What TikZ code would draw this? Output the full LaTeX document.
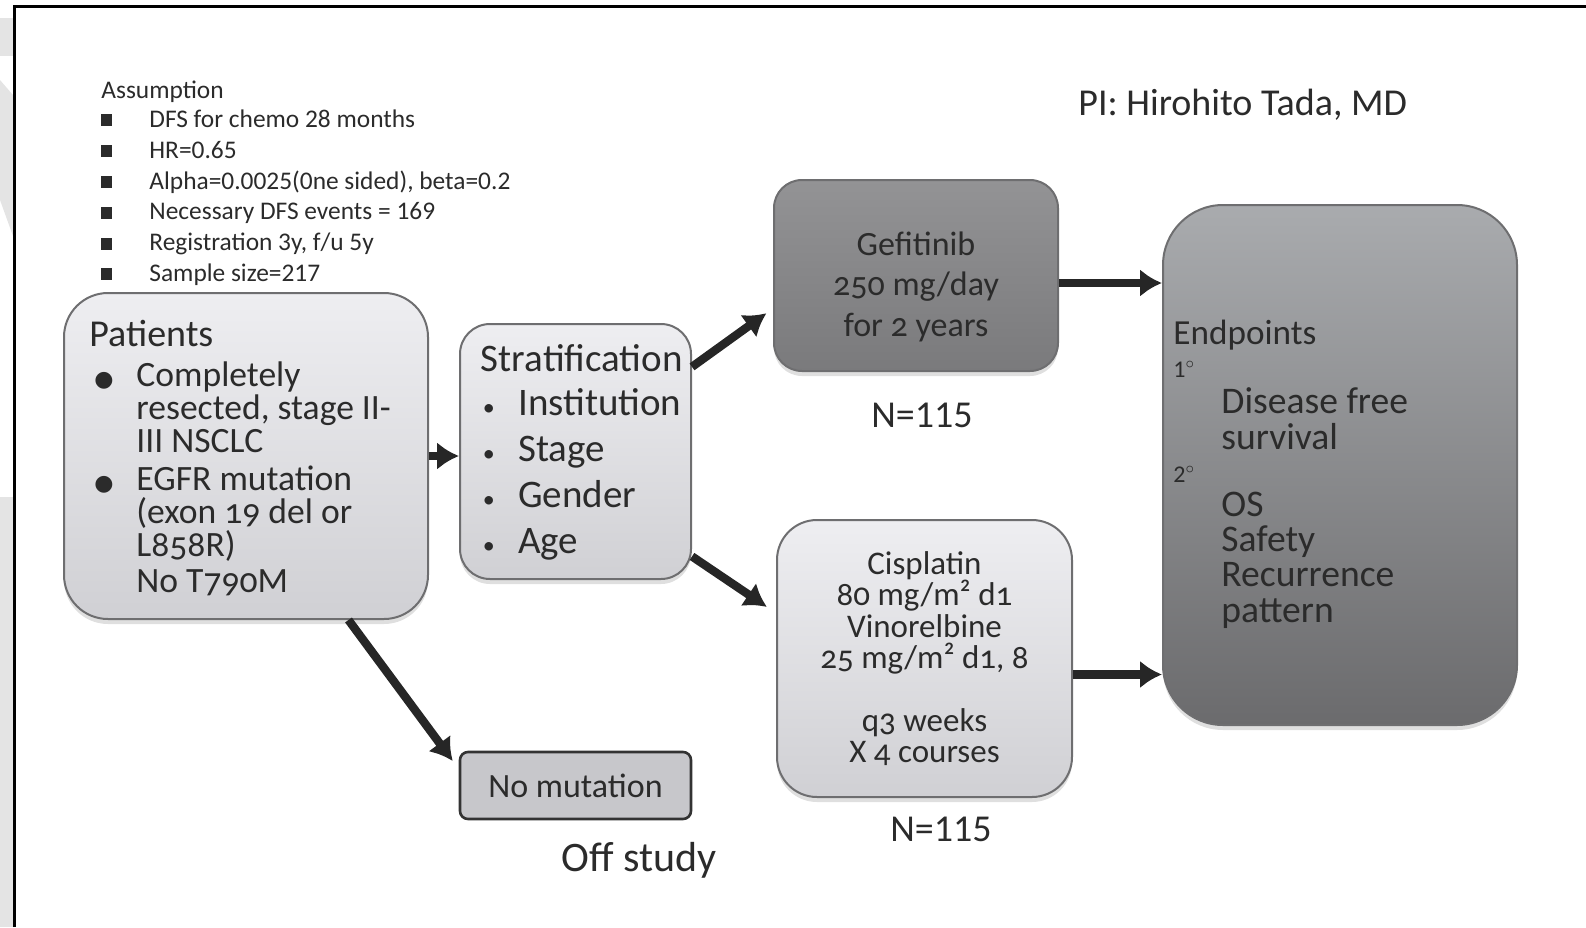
\documentclass[tikz,border=0pt]{standalone}
\usepackage{fontspec}
\setmainfont{Carlito}
\newfontfamily\oldfig{Carlito}[Numbers=OldStyle]
\newfontfamily\symfont{DejaVu Sans}
\usetikzlibrary{arrows.meta,shadows}

\definecolor{paleTop}{HTML}{EEEEF1}
\definecolor{paleBot}{HTML}{D0D0D4}
\definecolor{gefTop}{HTML}{939395}
\definecolor{gefBot}{HTML}{7A7A7C}
\definecolor{endTop}{HTML}{A9ABAE}
\definecolor{endBot}{HTML}{6B6B6D}
\definecolor{mutFill}{HTML}{C7C7CB}
\definecolor{rimGray}{HTML}{6E6E70}
\definecolor{inkDark}{HTML}{2B2B2B}
\definecolor{arrowInk}{HTML}{262626}
\definecolor{stripGray}{HTML}{E4E4E4}

\newcommand{\fsz}[2]{\fontsize{#1}{#2}\selectfont\lineskiplimit=-50pt\lineskip=0pt}
\newcommand{\sqbul}{\makebox[24pt][l]{\raisebox{0.5pt}{\rule{5.5pt}{6pt}}}}
\newcommand{\dotbul}{\makebox[23.5pt][l]{\hspace{2.5pt}{\symfont\fontsize{11}{11}\selectfont ●}}}
\newcommand{\indbul}{\hspace*{23.5pt}}
\newcommand{\smbul}{\makebox[18.7pt][l]{\hspace{1pt}{\fontsize{12}{12}\selectfont\textbullet}}}
\newcommand{\epind}{\hspace*{24pt}}

\begin{document}
\begin{tikzpicture}[x=0.5pt,y=-0.5pt,
    box/.style={draw=rimGray,line width=1pt,
      drop shadow={opacity=0.25,shadow xshift=0pt,shadow yshift=-2.5pt}},
    palebox/.style={box,top color=paleTop,bottom color=paleBot},
    darkbox/.style={box,top color=gefTop,bottom color=gefBot},
    boxtext/.style={text=inkDark,align=left,inner sep=0pt,anchor=west},
    label/.style={text=inkDark,inner sep=0pt},
    flow/.style={arrowInk,line width=4.2pt,-{Latex[length=11pt,width=14pt]}}]

      \useasboundingbox (0,0) rectangle (1586,927);
      \fill[stripGray] (0,18) rectangle (13,56);
      \fill[stripGray] (0,80) -- (13,95) -- (13,236) -- (0,200) -- cycle;
      \fill[stripGray] (0,497) rectangle (13,927);
      \draw[line width=1.5pt] (14,927) -- (14,6) -- (1586,6);

      \node[boxtext,font=\fsz{12.7}{15.4}] (assum) at (101,183) {Assumption\\[-0.7pt]
        \sqbul DFS for chemo 28 months\\
        \sqbul HR=0.65\\
        \sqbul Alpha=0.0025(0ne sided), beta=0.2\\
        \sqbul Necessary DFS events = 169\\
        \sqbul Registration 3y, f/u 5y\\
        \sqbul Sample size=217};
      \node[label,anchor=west,font=\fsz{19}{22}] (pi) at (1078,105) {PI: Hirohito Tada, MD};

      \node[palebox,rounded corners=22pt,minimum width=182pt,minimum height=163pt] (pat) at (246,456) {};
      \node[boxtext,font={\oldfig\fsz{17.8}{16.5}}] (pattxt) at (89,458) {{\fsz{19}{16.5}Patients}\\[3.7pt]
        \dotbul Completely\\
        \indbul resected, stage II-\\
        \indbul III NSCLC\\[2.2pt]
        \dotbul EGFR mutation\\
        \indbul (exon 19 del or\\
        \indbul L858R)\\[1.7pt]
        \indbul No T790M};

      \node[palebox,rounded corners=15pt,minimum width=115.5pt,minimum height=127.5pt] (strat) at (575.5,451.5) {};
      \node[boxtext,font=\fsz{19.5}{23}] (strattxt) at (480.5,452.5) {Stratification\\[-0.7pt]
        \smbul Institution\\
        \smbul Stage\\
        \smbul Gender\\
        \smbul Age};

      \node[darkbox,rounded corners=14pt,minimum width=142pt,minimum height=95.5pt,
        text=inkDark,align=center,font={\oldfig\fsz{17}{20.2}}] (gef) at (916,275.5)
        {\rule{0pt}{23pt}Gefitinib\\250 mg/day\\for 2 years};
      \node[label,font=\fsz{19}{22}] (ngef) at (922,415) {N=115};

      \node[palebox,rounded corners=20pt,minimum width=147.5pt,minimum height=138.5pt,
        text=inkDark,align=center,font={\oldfig\fsz{16.5}{15.7}}] (cis) at (924.5,658.5)
        {Cisplatin\\80 mg/m² d1\\Vinorelbine\\25 mg/m² d1, 8\\[15.7pt]q3 weeks\\X 4 courses};
      \node[label,font=\fsz{19}{22}] (ncis) at (941,829) {N=115};

      \node[box,top color=endTop,bottom color=endBot,rounded corners=30pt,
        minimum width=177pt,minimum height=260pt] (endp) at (1340,465) {};
      \node[boxtext,font=\fsz{18.8}{16.5}] (endtxt) at (1173,474) {{\fsz{17.6}{16.5}Endpoints}\\
        {\fsz{12}{12}1$^{\circ}$}\\[1.5pt]
        \epind Disease free\\[1.5pt]
        \epind survival\\
        {\fsz{12}{12}2$^{\circ}$}\\[0.5pt]
        \epind OS\\[1pt]
        \epind Safety\\[1pt]
        \epind Recurrence\\[1.5pt]
        \epind pattern};

      \node[draw=black!80,line width=1.3pt,fill=mutFill,rounded corners=4pt,
        minimum width=115.5pt,minimum height=33.5pt,text=inkDark,font=\fsz{17}{20}] (nomut) at (575.5,785.5) {No mutation};
      \node[label,font=\fsz{21}{24}] (off) at (639,860) {Off study};

      \draw[flow] (pat.east) -- (strat.west |- pat.east);
      \draw[flow,shorten >=4pt] (strat.36.5) -- (gef.193);
      \draw[flow,shorten >=5.5pt] (strat.-42) -- (cis.163);
      \draw[flow,shorten >=5pt] (pat.-58) -- (nomut.172.5);
      \draw[flow] ([yshift=-3.75pt]gef.east) -- ([yshift=-3.75pt]gef.east -| endp.west);
      \draw[flow] ([yshift=-8pt]cis.east) -- ([yshift=-8pt]cis.east -| endp.west);

\end{tikzpicture}
\end{document}
